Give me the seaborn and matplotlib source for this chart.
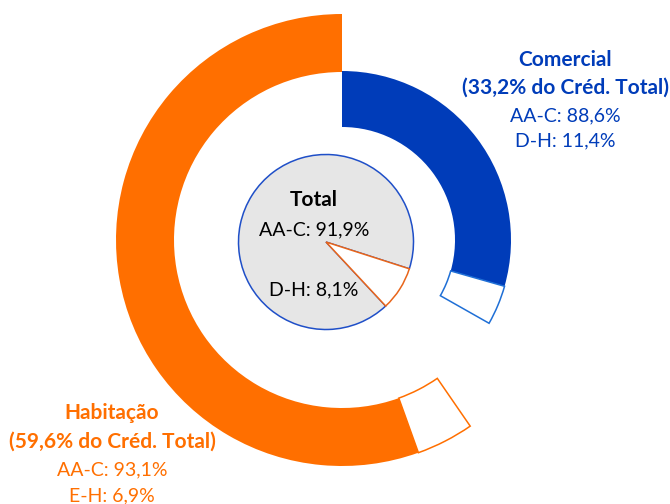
import numpy as np
import seaborn as sns
import matplotlib.pyplot as plt

sns.set_theme(style="white")
plt.rcParams['font.family'] = ['Lato', 'DejaVu Sans']

# shares of total credit (%)
segmentos = ["Comercial", "Habitação"]
quota_total = [33.2, 59.6]
# split inside each segment (%)
aa_c = [88.6, 93.1]
inc = [11.4, 6.9]
inc_rotulo = ["D-H", "E-H"]
# total portfolio
total_aa_c = 91.9
total_dh = 8.1

laranja = "#ff6f00"
azul = "#003cb9"
azul_linha = "#1f6fd6"
cinza = "#e6e6e6"


def pct(v):
    return f"{v:.1f}%".replace(".", ",")


fig = plt.figure(figsize=(6.7, 5.04), dpi=100)
ax = fig.add_axes([0, 0, 1, 1])
H = 504
centro = (342, H - 240)

# outer ring: Habitação (hidden remainder, E-H, AA-C), clockwise from the top
q = quota_total[1]
vals = [100 - q, q * inc[1] / 100, q * aa_c[1] / 100]
w, _ = ax.pie(vals, startangle=90, counterclock=False, center=centro, radius=226,
              colors=["white", "white", laranja],
              wedgeprops=dict(width=58, linewidth=0), frame=True)
w[0].set_visible(False)
w[1].set_edgecolor(laranja)
w[1].set_linewidth(1.1)

# inner ring: Comercial (AA-C, D-H, hidden remainder)
q = quota_total[0]
vals = [q * aa_c[0] / 100, q * inc[0] / 100, 100 - q]
w, _ = ax.pie(vals, startangle=90, counterclock=False, center=centro, radius=169,
              colors=[azul, "white", "white"],
              wedgeprops=dict(width=56, linewidth=0), frame=True)
w[2].set_visible(False)
w[1].set_edgecolor(azul_linha)
w[1].set_linewidth(1.1)

# centre pie: total portfolio
w, _ = ax.pie([total_dh, total_aa_c], startangle=-47, center=(326, H - 242), radius=87.5,
              colors=["white", cinza], wedgeprops=dict(linewidth=1.1), frame=True)
w[1].set_edgecolor("#1f4fc8")
w[0].set_edgecolor("#e8651a")
w[0].set_zorder(3)

ax.set_xlim(0, 670)
ax.set_ylim(0, H)
ax.set_aspect("equal")
ax.axis("off")


# labels
def bloco(x, ys, linhas, cor, negrito):
    for y, t, b in zip(ys, linhas, negrito):
        ax.text(x, H - y, t, color=cor, ha="center", va="center",
                fontsize=15 if b else 14, fontweight="bold" if b else "normal")


for i, (x, ys) in enumerate([(565, [60, 88, 116, 141]), (112, [413, 442, 470, 496])]):
    cor = azul if i == 0 else laranja
    bloco(x, ys,
          [segmentos[i], f"({pct(quota_total[i])} do Créd. Total)",
           f"AA-C: {pct(aa_c[i])}", f"{inc_rotulo[i]}: {pct(inc[i])}"],
          cor, [True, True, False, False])

bloco(314, [200, 230, 290],
      ["Total", f"AA-C: {pct(total_aa_c)}", f"D-H: {pct(total_dh)}"],
      "black", [True, False, False])

fig.savefig("out.png", dpi=100)
